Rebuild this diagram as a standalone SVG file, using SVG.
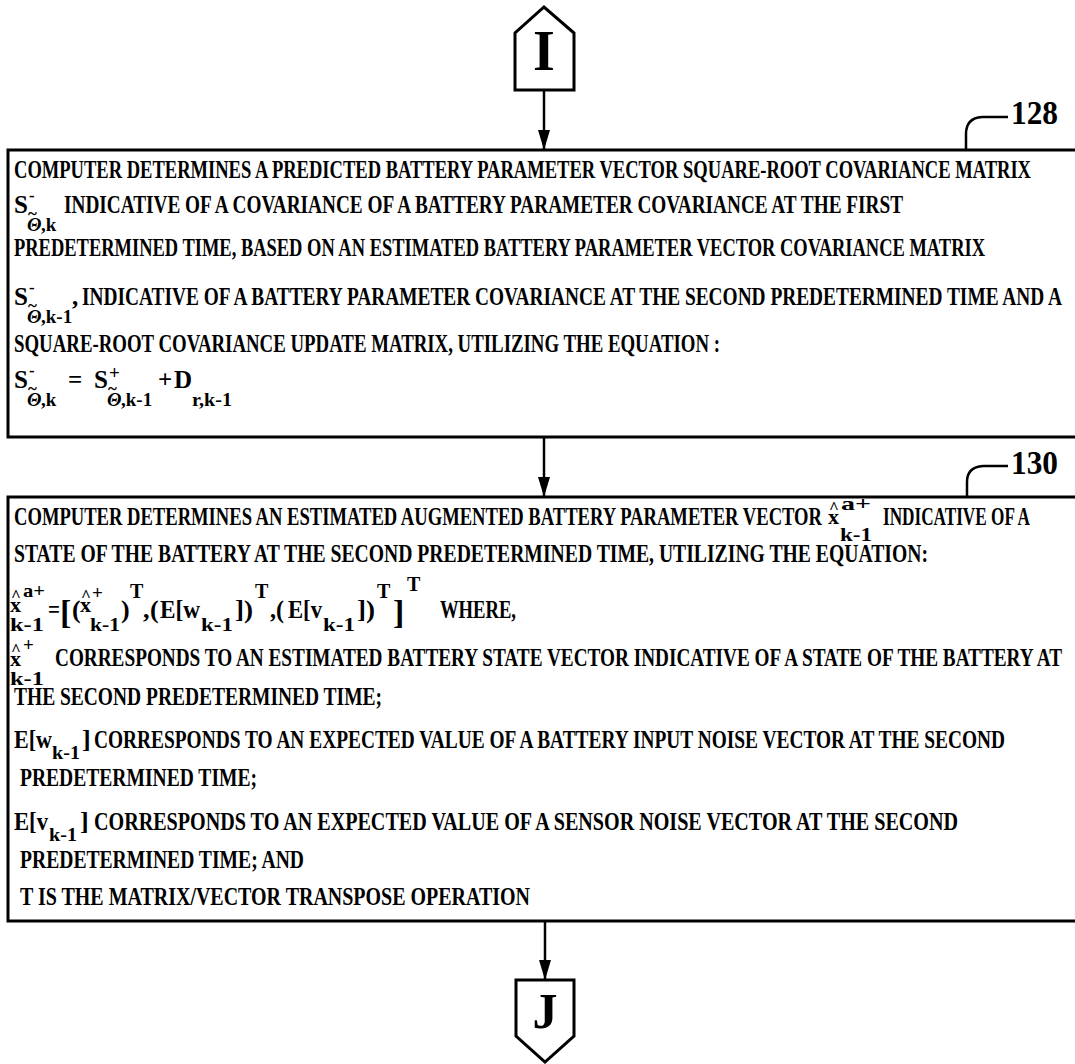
<svg xmlns="http://www.w3.org/2000/svg" width="1075" height="1064" viewBox="0 0 1075 1064">
<style>
.tx{font-family:"Liberation Serif","Times New Roman",serif;font-weight:bold;fill:#000}
.b1{font-size:25px}
.b2{font-size:26px}
.sm{font-size:17px}
.sb{font-size:19px}
.sp{font-size:19px}
.vx{font-size:22px}
.st{font-size:20px}
.br{font-size:34px}
.it{font-style:italic}
.big{font-size:56px}
.lbl{font-size:33px}
.box{fill:#fff;stroke:#000;stroke-width:3}
.ln{fill:none;stroke:#000;stroke-width:2.5}
</style>
<defs>
<marker id="ah" markerUnits="userSpaceOnUse" viewBox="0 0 20 12" markerWidth="20" markerHeight="12" refX="20" refY="6" orient="auto">
<path d="M0,0 L20,6 L0,12 z" fill="#000"/>
</marker>
</defs>
<rect width="1075" height="1064" fill="#fff"/>

<g id="connectors">
<line class="ln" x1="544" y1="90" x2="544" y2="150" marker-end="url(#ah)"/>
<line class="ln" x1="544" y1="437" x2="544" y2="497" marker-end="url(#ah)"/>
<line class="ln" x1="545" y1="921" x2="545" y2="980" marker-end="url(#ah)"/>
<path class="ln" d="M966,150 L966,134 Q966,118 982,117 L1008,117"/>
<path class="ln" d="M967,497 L967,482 Q967,467 983,466 L1008,466"/>
</g>

<g id="node-I">
<polygon class="box" points="515,90 515,33 544,7 574,33 574,90"/>
<text class="tx big" x="544" y="70" text-anchor="middle">I</text>
</g>

<g id="label-128">
<text class="tx lbl" x="1011" y="124" textLength="47" lengthAdjust="spacingAndGlyphs">128</text>
</g>

<g id="node-128">
<rect class="box" x="8" y="150" width="1080" height="287"/>
<text class="tx b1" x="14" y="178" textLength="1017" lengthAdjust="spacingAndGlyphs">COMPUTER DETERMINES A PREDICTED BATTERY PARAMETER VECTOR SQUARE-ROOT COVARIANCE MATRIX</text>
<text class="tx b1" x="14" y="213">S</text>
<text class="tx sm" x="29" y="201">-</text>
<text class="tx sm" x="28" y="219">~</text>
<text class="tx sb it" x="27" y="231">Θ</text>
<text class="tx sb" x="41" y="231">,k</text>
<text class="tx b1" x="64" y="213" textLength="839" lengthAdjust="spacingAndGlyphs">INDICATIVE OF A COVARIANCE OF A BATTERY PARAMETER COVARIANCE AT THE FIRST</text>
<text class="tx b1" x="14" y="256" textLength="971" lengthAdjust="spacingAndGlyphs">PREDETERMINED TIME, BASED ON AN ESTIMATED BATTERY PARAMETER VECTOR COVARIANCE MATRIX</text>
<text class="tx b1" x="14" y="305">S</text>
<text class="tx sm" x="29" y="293">-</text>
<text class="tx sm" x="28" y="311">~</text>
<text class="tx sb it" x="27" y="323">Θ</text>
<text class="tx sb" x="41" y="323">,k-1</text>
<text class="tx b1" x="72" y="305">,</text>
<text class="tx b1" x="82" y="305" textLength="980" lengthAdjust="spacingAndGlyphs">INDICATIVE OF A BATTERY PARAMETER COVARIANCE AT THE SECOND PREDETERMINED TIME AND A</text>
<text class="tx b1" x="14" y="352" textLength="706" lengthAdjust="spacingAndGlyphs">SQUARE-ROOT COVARIANCE UPDATE MATRIX, UTILIZING THE EQUATION :</text>
<text class="tx b1" x="14" y="388">S</text>
<text class="tx sm" x="29" y="376">-</text>
<text class="tx sm" x="28" y="394">~</text>
<text class="tx sb it" x="27" y="406">Θ</text>
<text class="tx sb" x="41" y="406">,k</text>
<text class="tx b1" x="68" y="388">=</text>
<text class="tx b1" x="94" y="388">S</text>
<text class="tx sp" x="109" y="379">+</text>
<text class="tx sm" x="108" y="394">~</text>
<text class="tx sb it" x="107" y="406">Θ</text>
<text class="tx sb" x="121" y="406">,k-1</text>
<text class="tx b1" x="158" y="388">+</text>
<text class="tx b1" x="174" y="388">D</text>
<text class="tx sb" x="192" y="406" textLength="40" lengthAdjust="spacingAndGlyphs">r,k-1</text>
</g>

<g id="label-130">
<text class="tx lbl" x="1011" y="474" textLength="47" lengthAdjust="spacingAndGlyphs">130</text>
</g>

<g id="node-130">
<rect class="box" x="8" y="497" width="1080" height="424"/>
<text class="tx b2" x="14" y="525" textLength="808" lengthAdjust="spacingAndGlyphs">COMPUTER DETERMINES AN ESTIMATED AUGMENTED BATTERY PARAMETER VECTOR</text>
<text class="tx vx" x="828" y="524">x</text>
<text class="tx sm" x="829" y="513">^</text>
<text class="tx sp" x="841" y="510" textLength="30" lengthAdjust="spacingAndGlyphs">a+</text>
<text class="tx sb" x="840" y="541" textLength="32" lengthAdjust="spacingAndGlyphs">k-1</text>
<text class="tx b2" x="883" y="525" textLength="147" lengthAdjust="spacingAndGlyphs">INDICATIVE OF A</text>
<text class="tx b2" x="14" y="562" textLength="914" lengthAdjust="spacingAndGlyphs">STATE OF THE BATTERY AT THE SECOND PREDETERMINED TIME, UTILIZING THE EQUATION:</text>

<text class="tx vx" x="10" y="612">x</text>
<text class="tx sm" x="11" y="601">^</text>
<text class="tx sp" x="23" y="597" textLength="22" lengthAdjust="spacingAndGlyphs">a+</text>
<text class="tx sb" x="10" y="631" textLength="34" lengthAdjust="spacingAndGlyphs">k-1</text>
<text class="tx b2" x="48" y="618" textLength="12" lengthAdjust="spacingAndGlyphs">=</text>
<text class="tx br" x="60" y="624">[</text>
<text class="tx b2" x="72" y="618">(</text>
<text class="tx vx" x="80" y="612">x</text>
<text class="tx sm" x="81" y="601">^</text>
<text class="tx sp" x="92" y="599">+</text>
<text class="tx sb" x="90" y="631" textLength="30" lengthAdjust="spacingAndGlyphs">k-1</text>
<text class="tx b2" x="121" y="618">)</text>
<text class="tx st" x="130" y="598">T</text>
<text class="tx b2" x="143" y="618">,</text>
<text class="tx b2" x="150" y="618">(</text>
<text class="tx b2" x="160" y="618" textLength="40" lengthAdjust="spacingAndGlyphs">E[w</text>
<text class="tx sb" x="201" y="631" textLength="32" lengthAdjust="spacingAndGlyphs">k-1</text>
<text class="tx b2" x="235" y="618" textLength="18" lengthAdjust="spacingAndGlyphs">])</text>
<text class="tx st" x="255" y="598">T</text>
<text class="tx b2" x="270" y="618" textLength="14" lengthAdjust="spacingAndGlyphs">,(</text>
<text class="tx b2" x="288" y="618" textLength="34" lengthAdjust="spacingAndGlyphs">E[v</text>
<text class="tx sb" x="323" y="631" textLength="32" lengthAdjust="spacingAndGlyphs">k-1</text>
<text class="tx b2" x="357" y="618" textLength="18" lengthAdjust="spacingAndGlyphs">])</text>
<text class="tx st" x="377" y="598">T</text>
<text class="tx br" x="393" y="624">]</text>
<text class="tx st" x="407" y="591">T</text>
<text class="tx b2" x="440" y="618" textLength="76" lengthAdjust="spacingAndGlyphs">WHERE,</text>

<text class="tx vx" x="10" y="666">x</text>
<text class="tx sm" x="11" y="655">^</text>
<text class="tx sp" x="23" y="651">+</text>
<text class="tx sb" x="10" y="685" textLength="34" lengthAdjust="spacingAndGlyphs">k-1</text>
<text class="tx b2" x="55" y="666" textLength="1007" lengthAdjust="spacingAndGlyphs">CORRESPONDS TO AN ESTIMATED BATTERY STATE VECTOR INDICATIVE OF A STATE OF THE BATTERY AT</text>
<text class="tx b2" x="14" y="705" textLength="368" lengthAdjust="spacingAndGlyphs">THE SECOND PREDETERMINED TIME;</text>

<text class="tx b2" x="14" y="748" textLength="38" lengthAdjust="spacingAndGlyphs">E[w</text>
<text class="tx sb" x="52" y="759" textLength="28" lengthAdjust="spacingAndGlyphs">k-1</text>
<text class="tx b2" x="82" y="748">]</text>
<text class="tx b2" x="94" y="748" textLength="911" lengthAdjust="spacingAndGlyphs">CORRESPONDS TO AN EXPECTED VALUE OF A BATTERY INPUT NOISE VECTOR AT THE SECOND</text>
<text class="tx b2" x="20" y="786" textLength="237" lengthAdjust="spacingAndGlyphs">PREDETERMINED TIME;</text>

<text class="tx b2" x="14" y="830" textLength="34" lengthAdjust="spacingAndGlyphs">E[v</text>
<text class="tx sb" x="49" y="841" textLength="28" lengthAdjust="spacingAndGlyphs">k-1</text>
<text class="tx b2" x="80" y="830">]</text>
<text class="tx b2" x="94" y="830" textLength="864" lengthAdjust="spacingAndGlyphs">CORRESPONDS TO AN EXPECTED VALUE OF A SENSOR NOISE VECTOR AT THE SECOND</text>
<text class="tx b2" x="20" y="868" textLength="284" lengthAdjust="spacingAndGlyphs">PREDETERMINED TIME; AND</text>
<text class="tx b2" x="20" y="905" textLength="510" lengthAdjust="spacingAndGlyphs">T IS THE MATRIX/VECTOR TRANSPOSE OPERATION</text>
</g>

<g id="node-J">
<polygon class="box" points="516,980 574,980 574,1036 545,1062 516,1036"/>
<text class="tx big" x="545" y="1028" text-anchor="middle" style="font-size:50px">J</text>
</g>
</svg>
